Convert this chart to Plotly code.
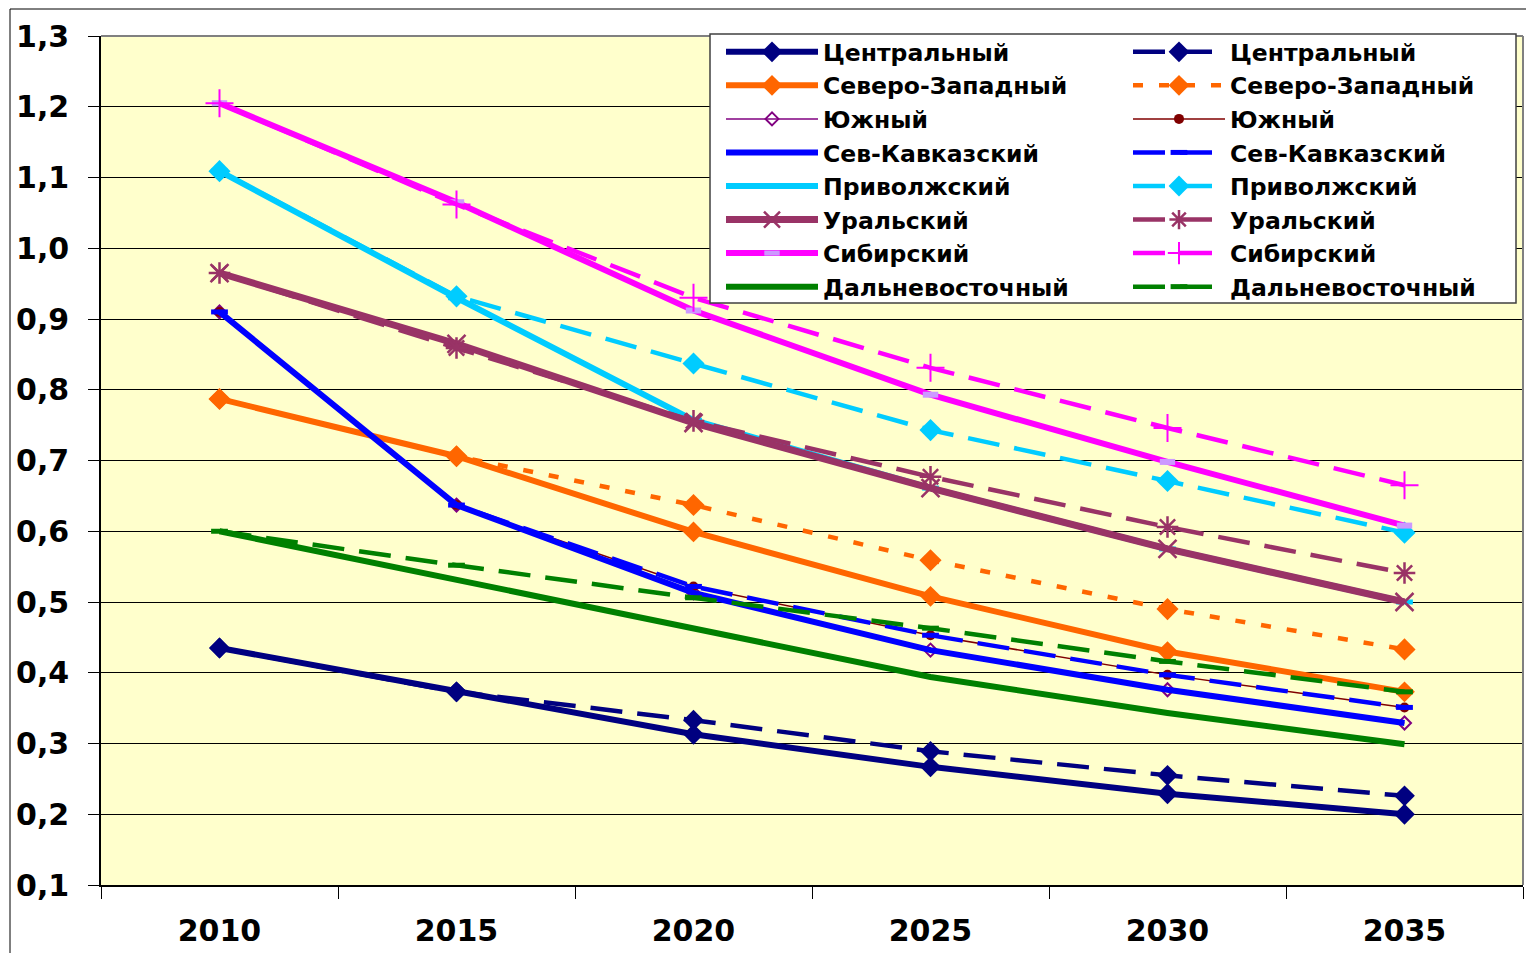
import plotly.graph_objects as go

years = ["2010", "2015", "2020", "2025", "2030", "2035"]

central_a = [0.435, 0.373, 0.313, 0.267, 0.229, 0.200]
central_b = [0.435, 0.373, 0.333, 0.289, 0.255, 0.226]
nw_a = [0.787, 0.706, 0.599, 0.508, 0.430, 0.373]
nw_b = [0.787, 0.706, 0.637, 0.559, 0.490, 0.433]
south_a = [0.910, 0.637, 0.513, 0.432, 0.376, 0.329]
south_b = [0.910, 0.637, 0.522, 0.453, 0.397, 0.351]
nc_a = [0.910, 0.637, 0.513, 0.432, 0.376, 0.329]
nc_b = [0.910, 0.637, 0.522, 0.453, 0.397, 0.351]
volga_a = [1.109, 0.930, 0.757, 0.661, 0.575, 0.500]
volga_b = [1.109, 0.932, 0.837, 0.743, 0.671, 0.598]
ural_a = [0.965, 0.865, 0.753, 0.661, 0.575, 0.500]
ural_b = [0.965, 0.859, 0.756, 0.677, 0.606, 0.541]
sib_a = [1.205, 1.065, 0.912, 0.793, 0.698, 0.608]
sib_b = [1.205, 1.062, 0.930, 0.831, 0.746, 0.665]
fe_a = [0.600, 0.532, 0.463, 0.394, 0.343, 0.299]
fe_b = [0.600, 0.552, 0.506, 0.463, 0.416, 0.373]

names = ["Центральный", "Северо-Западный", "Южный", "Сев-Кавказский",
         "Приволжский", "Уральский", "Сибирский", "Дальневосточный"]

NAVY = "#000080"
ORANGE = "#FF6600"
PURPLE = "#800080"
DARKRED = "#800000"
BLUE = "#0000FF"
CYAN = "#00CCFF"
PLUM = "#993366"
MAGENTA = "#FF00FF"
LAVENDER = "#CC99FF"
GREEN = "#008000"

DASH = "32px,15px"

fig = go.Figure()


def add(y, name, legend, color, width, dash="solid", marker=None, mode="lines+markers"):
    fig.add_trace(go.Scatter(
        x=years, y=y, name=name, legend=legend, mode=mode,
        line=dict(color=color, width=width, dash=dash),
        marker=marker if marker else dict(size=1),
    ))


# Центральный
add(central_a, names[0], "legend", NAVY, 6, marker=dict(symbol="diamond", size=16, color=NAVY))
add(central_b, names[0], "legend2", NAVY, 4.5, dash=DASH, marker=dict(symbol="diamond", size=16, color=NAVY))
# Северо-Западный
add(nw_a, names[1], "legend", ORANGE, 6, marker=dict(symbol="diamond", size=16, color=ORANGE))
add(nw_b, names[1], "legend2", ORANGE, 4.5, dash="10px,16px", marker=dict(symbol="diamond", size=17, color=ORANGE))
# Южный
add(south_a, names[2], "legend", PURPLE, 1.5,
    marker=dict(symbol="diamond-open", size=10, color=PURPLE, line=dict(width=2, color=PURPLE)))
add(south_b, names[2], "legend2", DARKRED, 1.5,
    marker=dict(symbol="circle", size=10, color=DARKRED))
# Сев-Кавказский
add(nc_a, names[3], "legend", BLUE, 6, mode="lines")
add(nc_b, names[3], "legend2", BLUE, 4.5, dash=DASH,
    marker=dict(symbol="line-ew", size=12, color=BLUE, line=dict(width=5, color=BLUE)))
# Приволжский
add(volga_a, names[4], "legend", CYAN, 6,
    marker=dict(symbol="line-ew", size=12, color=CYAN, line=dict(width=5, color=CYAN)))
add(volga_b, names[4], "legend2", CYAN, 4.5, dash=DASH, marker=dict(symbol="diamond", size=17, color=CYAN))
# Уральский
add(ural_a, names[5], "legend", PLUM, 7,
    marker=dict(symbol="x-thin", size=18, color=PLUM, line=dict(width=2.5, color=PLUM)))
add(ural_b, names[5], "legend2", PLUM, 4.5, dash=DASH,
    marker=dict(symbol="asterisk", size=18, color=PLUM, line=dict(width=2.5, color=PLUM)))
# Сибирский
add(sib_a, names[6], "legend", MAGENTA, 6,
    marker=dict(symbol="line-ew", size=11, color=LAVENDER, line=dict(width=6, color=LAVENDER)))
add(sib_b, names[6], "legend2", MAGENTA, 4.5, dash=DASH,
    marker=dict(symbol="cross-thin", size=20, color=MAGENTA, line=dict(width=2, color=MAGENTA)))
# Дальневосточный
add(fe_a, names[7], "legend", GREEN, 6, mode="lines")
add(fe_b, names[7], "legend2", GREEN, 4.5, dash=DASH,
    marker=dict(symbol="line-ew", size=12, color=GREEN, line=dict(width=5, color=GREEN)))

FONT = "DejaVu Sans, Arial, sans-serif"
L, R, T, B = 101, 3, 36, 68
W, H = 1526, 953
PW, PH = W - L - R, H - T - B


def px(x):
    return (x - L) / PW


def py(y):
    return (H - B - y) / PH


legend_common = dict(
    font=dict(family=FONT, size=23.5, color="black", weight="bold"),
    bgcolor="rgba(0,0,0,0)", borderwidth=0, itemwidth=92,
    yanchor="top", xanchor="left", orientation="v", tracegroupgap=0,
    itemclick=False, itemdoubleclick=False,
)

fig.update_layout(
    width=W, height=H,
    margin=dict(l=L, r=R, t=T, b=B),
    paper_bgcolor="white",
    plot_bgcolor="#FFFFCC",
    separators=", ",
    showlegend=True,
    legend=dict(legend_common, x=px(721), y=py(30)),
    legend2=dict(legend_common, x=px(1128), y=py(30)),
    font=dict(family=FONT, color="black"),
    xaxis=dict(
        type="category", range=[-0.5, 5.5],
        showgrid=False, zeroline=False,
        tickson="boundaries", ticks="outside", ticklen=12, tickcolor="black", tickwidth=1,
        showline=True, linecolor="black", linewidth=1.5,
        tickfont=dict(family=FONT, size=30, color="black", weight="bold"),
        ticklabelstandoff=18,
    ),
    yaxis=dict(
        range=[0.1, 1.3], dtick=0.1, tick0=0.1, tickformat=".1f",
        showgrid=True, gridcolor="black", gridwidth=1,
        zeroline=False,
        ticks="outside", ticklen=11, tickcolor="black", tickwidth=1,
        showline=True, linecolor="black", linewidth=1.5,
        tickfont=dict(family=FONT, size=30, color="black", weight="bold"),
        ticklabelstandoff=13,
    ),
    shapes=[
        # plot area frame (top/right grey)
        dict(type="line", xref="paper", yref="paper", x0=0, x1=1, y0=1, y1=1,
             line=dict(color="#808080", width=2)),
        dict(type="line", xref="paper", yref="paper", x0=1, x1=1, y0=0, y1=1,
             line=dict(color="#808080", width=2)),
        # outer chart border (left/top)
        dict(type="line", xref="paper", yref="paper", x0=px(10), x1=px(10), y0=py(953), y1=py(9),
             line=dict(color="black", width=1)),
        dict(type="line", xref="paper", yref="paper", x0=px(10), x1=px(1526), y0=py(9), y1=py(9),
             line=dict(color="black", width=1)),
        # legend box
        dict(type="rect", xref="paper", yref="paper", layer="above",
             x0=px(710), x1=px(1516), y0=py(303), y1=py(34),
             fillcolor="white", line=dict(color="#404040", width=1.5)),
    ],
)

fig.write_html("out.html")
